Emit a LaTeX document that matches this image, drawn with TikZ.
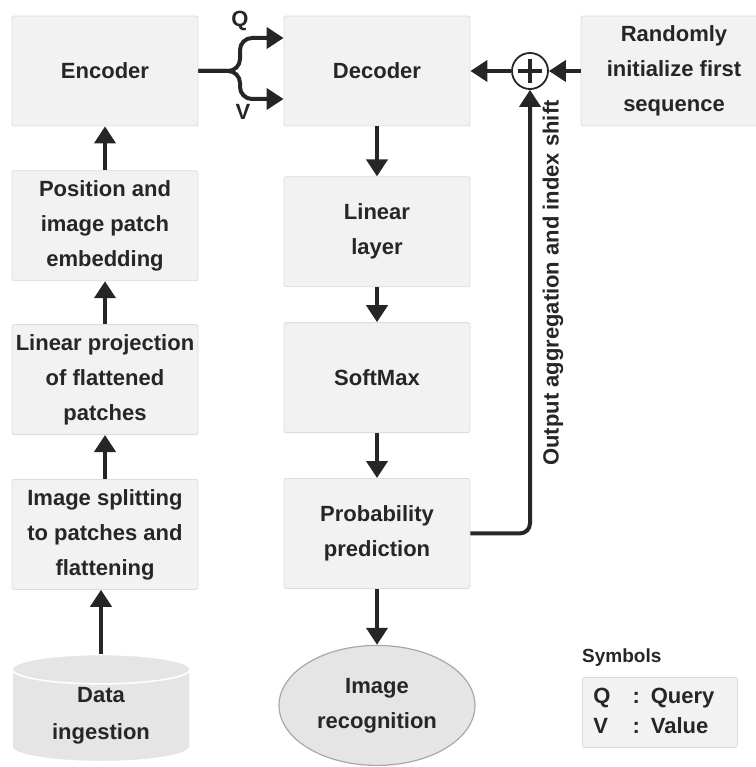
\documentclass[tikz,border=0pt]{standalone}
\usepackage{fontspec}
\setmainfont{Liberation Sans}
\usetikzlibrary{positioning, arrows.meta, shapes.geometric, calc}
\definecolor{ink}{HTML}{262626}
\definecolor{boxfill}{HTML}{F2F2F2}
\definecolor{boxline}{HTML}{DCDCDC}
\definecolor{dbfill}{HTML}{E5E5E5}
\definecolor{ovline}{HTML}{A8A8A8}
\tikzset{
  stage/.style={draw=boxline, fill=boxfill, rounded corners=2pt, line width=0.8pt,
                align=center, minimum width=186pt, minimum height=110pt, inner sep=0pt,
                text=ink, font=\bfseries\fontsize{22pt}{35pt}\selectfont},
  db/.style={cylinder, shape border rotate=90, aspect=0.3, draw=white, line width=1.5pt,
             fill=dbfill, align=center, minimum width=178pt, minimum height=107pt,
             inner sep=0pt, text=ink, font=\bfseries\fontsize{22pt}{37pt}\selectfont},
  goal/.style={ellipse, draw=ovline, line width=1.2pt, fill=dbfill, align=center,
               minimum width=196pt, minimum height=120pt, inner sep=0pt,
               text=ink, font=\bfseries\fontsize{22pt}{35pt}\selectfont},
  tag/.style={text=ink, font=\bfseries\fontsize{22pt}{26pt}\selectfont, inner sep=0pt},
  keybox/.style={draw=boxline, fill=boxfill, rounded corners=2pt, line width=0.8pt,
                 text width=133pt, inner xsep=11pt, minimum height=70pt, align=left,
                 text=ink, font=\bfseries\fontsize{22pt}{30pt}\selectfont},
  ar/.style={-{Triangle[length=17pt,width=21pt]}, line width=4pt, draw=ink},
}

\begin{document}
\begin{tikzpicture}[x=1pt, y=-1pt, node distance=44pt]
  \useasboundingbox (0,0) rectangle (755,767);

  % encoder side
  \node[stage] (enc) at (105,71) {Encoder};
  \node[stage, below=of enc] (embed) {Position and\\image patch\\embedding};
  \node[stage, below=43pt of embed] (proj) {Linear projection\\of flattened\\patches};
  \node[stage, below=of proj] (split) {Image splitting\\to patches and\\flattening};
  \node[db, below=64pt of split, xshift=-4pt] (data) {Data\\ingestion};

  % decoder side
  \node[stage] (dec) at (377,71) {Decoder};
  \node[stage, below=50pt of dec] (linear) {Linear\\layer};
  \node[stage, below=35pt of linear] (soft) {SoftMax};
  \node[stage, below=45pt of soft] (prob) {Probability\\prediction};
  \node[goal, below=56pt of prob] (recog) {Image\\recognition};

  \node[stage] (rand) at (674,71) {Randomly\\initialize first\\sequence};
  \node[circle, draw=ink, fill=white, line width=1.8pt, minimum size=36pt,
        inner sep=0pt] (sum) at (530,71) {};
  \draw[line width=4pt, ink] ($(sum)+(-12pt,0)$) -- ($(sum)+(12pt,0)$)
                             ($(sum)+(0,-12pt)$) -- ($(sum)+(0,12pt)$);

  % Q / V fork
  \coordinate (fork) at (240,71);
  \node[tag] (qtag) at (240,21) {Q};
  \node[tag] (vtag) at (243,112) {V};

  \draw[ar] (data.north) -- (data.north |- split.south);
  \draw[ar] (split) -- (proj);
  \draw[ar] (proj) -- (embed);
  \draw[ar] (embed) -- (enc);
  \draw[ar, rounded corners=12pt] (enc.east) -- (fork) |- ([yshift=33pt]dec.west);
  \draw[ar, rounded corners=12pt] (enc.east) -- (fork) |- ([yshift=-28pt]dec.west);

  \draw[ar] (dec) -- (linear);
  \draw[ar] (linear) -- (soft);
  \draw[ar] (soft) -- (prob);
  \draw[ar] (prob) -- (recog);

  \draw[ar] (rand) -- (sum);
  \draw[ar] (sum) -- (dec);
  \draw[ar, rounded corners=10pt] (prob.east) -| (sum.south);
  \node[tag, rotate=90] (shift) at (553,283) {Output aggregation and index shift};

  % legend
  \node[tag, anchor=west, font=\bfseries\fontsize{19pt}{22pt}\selectfont] (symt) at (582,658) {Symbols};
  \node[keybox, anchor=north west] (legend) at (582,677)
    {\begin{tabular}{@{}l@{\hspace{22pt}}l@{}}Q & : Query\\ V & : Value\end{tabular}};
\end{tikzpicture}
\end{document}
